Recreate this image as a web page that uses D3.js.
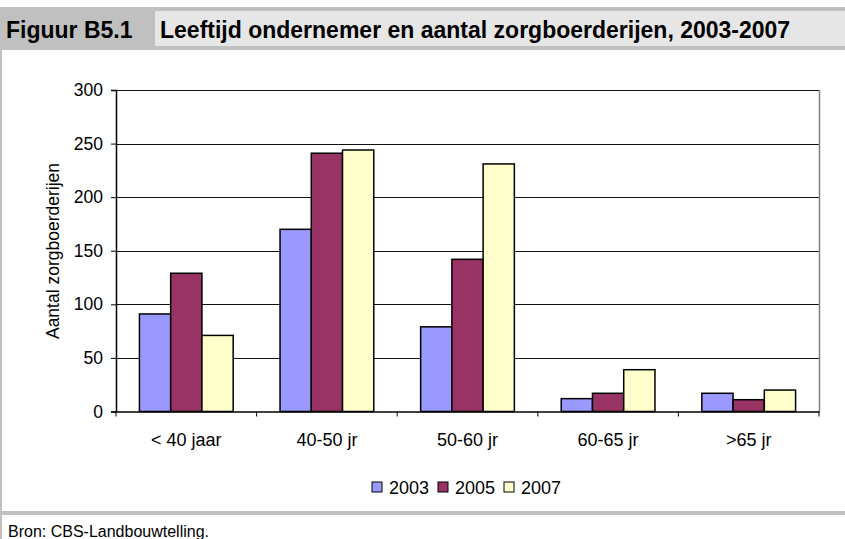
<!DOCTYPE html>
<html>
<head>
<meta charset="utf-8">
<script src="https://cdn.jsdelivr.net/npm/d3@7"></script>
<style>
  html, body { margin: 0; padding: 0; background: #fff; }
  svg { display: block; }
</style>
</head>
<body>
<svg id="chart" width="845" height="539"></svg>
<script>
// Age groups of the farm operator
const categories = ["< 40 jaar", "40-50 jr", "50-60 jr", "60-65 jr", ">65 jr"];
// Survey years
const years = ["2003", "2005", "2007"];
// Number of care farms per age group, one array per year
const values2003 = [91, 170, 79, 12, 17];
const values2005 = [129, 241, 142, 17, 11];
const values2007 = [71, 244, 231, 39, 20];
const yTicks = [0, 50, 100, 150, 200, 250, 300];
const colors = ["#9999FF", "#993366", "#FFFFCC"];

const seriesValues = [values2003, values2005, values2007];
const rows = categories.map((c, i) => ({
  cat: c,
  vals: years.map((y, k) => ({ year: y, value: seriesValues[k][i], color: colors[k] }))
}));

const svg = d3.select("#chart");
const W = 845, H = 539;
const font = "'Liberation Sans', Arial, sans-serif";

// ---- Header bar ----
svg.append("rect").attr("x", 0).attr("y", 7).attr("width", W).attr("height", 43).attr("fill", "#c0c0c0");
svg.append("rect").attr("x", 155).attr("y", 11).attr("width", W - 155).attr("height", 35).attr("fill", "#e6e6e6");
svg.append("text").attr("x", 6).attr("y", 38)
  .attr("font-family", font).attr("font-weight", "bold").attr("font-size", 23)
  .attr("fill", "#000").text("Figuur B5.1");
svg.append("text").attr("x", 160).attr("y", 38)
  .attr("font-family", font).attr("font-weight", "bold").attr("font-size", 23)
  .attr("fill", "#000").text("Leeftijd ondernemer en aantal zorgboerderijen, 2003-2007");

// ---- Frame ----
svg.append("line").attr("x1", 1).attr("x2", 1).attr("y1", 50).attr("y2", H)
  .attr("stroke", "#c0c0c0").attr("stroke-width", 2);
svg.append("rect").attr("x", 0).attr("y", 511).attr("width", W).attr("height", 4).attr("fill", "#c0c0c0");
svg.append("text").attr("x", 8).attr("y", 537)
  .attr("font-family", font).attr("font-size", 16).attr("fill", "#000")
  .text("Bron: CBS-Landbouwtelling.");

// ---- Plot ----
const plot = { left: 116, right: 819, top: 90, bottom: 411.5 };
const x0 = d3.scaleBand().domain(categories).range([plot.left, plot.right]).paddingInner(0).paddingOuter(0);
const groupPad = 0.75 / 4.5; // gap width 150% of a bar
const x1 = d3.scaleBand().domain(years)
  .range([x0.bandwidth() * groupPad, x0.bandwidth() * (1 - groupPad)]).padding(0);
const y = d3.scaleLinear().domain([0, 300]).range([plot.bottom, plot.top]);

const g = svg.append("g");

// horizontal gridlines
g.selectAll("line.grid").data(yTicks.filter(t => t > 0)).join("line")
  .attr("class", "grid")
  .attr("x1", plot.left).attr("x2", plot.right)
  .attr("y1", d => Math.round(y(d)) + 0.5).attr("y2", d => Math.round(y(d)) + 0.5)
  .attr("stroke", "#111").attr("stroke-width", 1);

// right edge of plot area
g.append("line").attr("x1", plot.right + 0.5).attr("x2", plot.right + 0.5)
  .attr("y1", plot.top).attr("y2", plot.bottom)
  .attr("stroke", "#808080").attr("stroke-width", 1.5);

// bars
const groups = g.selectAll("g.cat").data(rows).join("g")
  .attr("class", "cat")
  .attr("transform", d => `translate(${x0(d.cat)},0)`);
groups.selectAll("rect").data(d => d.vals).join("rect")
  .attr("x", d => x1(d.year))
  .attr("width", x1.bandwidth())
  .attr("y", d => y(d.value))
  .attr("height", d => y(0) - y(d.value))
  .attr("fill", d => d.color)
  .attr("stroke", "#000").attr("stroke-width", 1.5);

// y axis
const yAxis = g.append("g").attr("transform", `translate(${plot.left},0)`)
  .call(d3.axisLeft(y).tickValues(yTicks).tickSize(5).tickPadding(8));
yAxis.select(".domain").attr("stroke", "#000").attr("stroke-width", 1.5);
yAxis.selectAll(".tick line").attr("stroke", "#000");
yAxis.selectAll("text").attr("font-family", font).attr("font-size", 17.5).attr("fill", "#000");

// x axis with ticks on category boundaries
const xAxis = g.append("g").attr("transform", `translate(0,${plot.bottom})`)
  .call(d3.axisBottom(x0).tickSize(0).tickPadding(0));
xAxis.select(".domain").attr("stroke", "#000").attr("stroke-width", 1.5);
xAxis.selectAll("text").attr("dy", null).attr("y", 34)
  .attr("font-family", font).attr("font-size", 18).attr("fill", "#000");
const bounds = categories.map(c => x0(c)).concat([plot.right]);
xAxis.selectAll("line.bound").data(bounds).join("line")
  .attr("class", "bound")
  .attr("x1", d => d).attr("x2", d => d)
  .attr("y1", 0).attr("y2", 5)
  .attr("stroke", "#000").attr("stroke-width", 1);

// y axis title
svg.append("text")
  .attr("transform", `translate(59,251) rotate(-90)`)
  .attr("text-anchor", "middle")
  .attr("font-family", font).attr("font-size", 17.5).attr("fill", "#000")
  .text("Aantal zorgboerderijen");

// ---- Legend ----
const legendX = [372, 438, 504];
const legend = svg.append("g").selectAll("g").data(years).join("g")
  .attr("transform", (d, i) => `translate(${legendX[i]},482)`);
legend.append("rect").attr("width", 10).attr("height", 10)
  .attr("fill", (d, i) => colors[i]).attr("stroke", "#000").attr("stroke-width", 1);
legend.append("text").attr("x", 17).attr("y", 12)
  .attr("font-family", font).attr("font-size", 18).attr("fill", "#000")
  .text(d => d);
</script>
</body>
</html>
